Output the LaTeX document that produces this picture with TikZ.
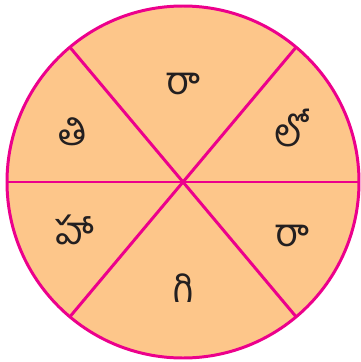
\documentclass[tikz,border=0pt]{standalone}
\usepackage{fontspec}
\newfontfamily\telugu[Script=Telugu]{Hind Guntur}
\definecolor{peach}{RGB}{253,198,138}
\definecolor{rim}{RGB}{236,0,140}
\definecolor{ink}{RGB}{35,31,32}
\begin{document}
\begin{tikzpicture}[x=0.02cm,y=-0.02cm,
  lbl/.style={text=ink,font=\telugu\fontsize{22}{26}\selectfont,inner sep=0pt},
  rimline/.style={rim,line width=1.7pt}]
\useasboundingbox (0,0) rectangle (361,362);
\coordinate (c) at (183,182);
\fill[peach] (c) circle[radius=176];
\coordinate (l) at (7,182);
\coordinate (r) at (359,182);
\path (c) ++(-50:176) coordinate (p1);
\path (c) ++(-130:176) coordinate (p2);
\path (c) ++(50:176) coordinate (p3);
\path (c) ++(130:176) coordinate (p4);
\draw[rimline] (l) -- (r);
\draw[rimline] (p1) -- (p4);
\draw[rimline] (p2) -- (p3);
\draw[rimline] (c) circle[radius=176];
\node[lbl] (a) at (183,84) {రా};
\node[lbl] (b) at (290,128) {లో};
\node[lbl] (d) at (292,236) {రా};
\node[lbl] (e) at (183,288) {గి};
\node[lbl] (f) at (75,230) {హా};
\node[lbl] (g) at (73,132) {తి};
\end{tikzpicture}
\end{document}
